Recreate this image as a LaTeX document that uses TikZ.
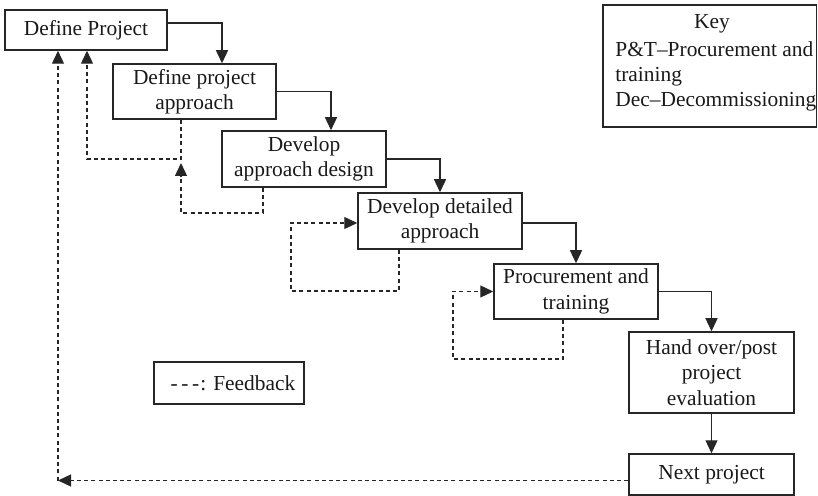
\documentclass[tikz,border=0pt]{standalone}
\usepackage{fontspec}
\setmainfont{Liberation Serif}
\usetikzlibrary{arrows.meta,calc}
\begin{document}
\begin{tikzpicture}[x=0.5pt,y=-0.5pt,
  every node/.style={font=\fontsize{10.7}{12.7}\selectfont, text=black!90},
  stage/.style={draw=black!85, line width=0.75pt, align=center, inner sep=0pt, rectangle},
  keyline/.style={inner sep=0pt},
  flow/.style={draw=black!85, line width=0.65pt, -{Triangle[length=6.5pt,width=6pt]}},
  fb/.style={draw=black!85, line width=0.65pt, dash pattern=on 2pt off 1.6pt},
  fbarrow/.style={fb, -{Triangle[length=6.5pt,width=6pt]}}]
\useasboundingbox (0,0) rectangle (818,496);

% process stages
\node[stage, minimum width=81pt,   minimum height=20pt]   (dp) at (86,30)      {Define Project};
\node[stage, minimum width=81.5pt, minimum height=27.5pt] (b2) at (194.5,91.5) {Define project\\approach};
\node[stage, minimum width=82pt,   minimum height=28pt]   (b3) at (304,159)    {Develop\\approach design};
\node[stage, minimum width=82pt,   minimum height=28pt]   (b4) at (440,221)    {Develop detailed\\approach};
\node[stage, minimum width=82pt,   minimum height=27.5pt] (b5) at (576,291.5)  {Procurement and\\training};
\node[stage, minimum width=82.5pt, minimum height=40.5pt] (b6) at (711.5,372.5) {Hand over/post\\project\\evaluation};
\node[stage, minimum width=82.5pt, minimum height=20.5pt] (nx) at (711.5,474.5) {Next project};

% legend and key
\node[stage, minimum width=75pt, minimum height=21pt] (lg) at (229,383) {\hspace*{4pt}-\kern1.8pt-\kern1.8pt-\kern0.5pt: Feedback};
\node[stage, minimum width=106.75pt, minimum height=61pt] (key) at (709.75,66) {};
\node[keyline, anchor=base] (keyt) at (712,29) {Key};
\node[keyline, anchor=base west] (key1) at (615,57) {P\&T–Procurement and};
\node[keyline, anchor=base west] (key2) at (615,82) {training};
\node[keyline, anchor=base west] (key3) at (615,107) {Dec–Decommissioning};

% forward flow
\draw[flow] ([yshift=3.5pt]dp.east) -| ([xshift=13.75pt]b2.north);
\draw[flow] (b2.east) -| ([xshift=13.5pt]b3.north);
\draw[flow] (b3.east) -| (b4.north);
\draw[flow] ([yshift=-1pt]b4.east) -| (b5.north);
\draw[flow] (b5.east) -| (b6.north);
\draw[flow] (b6.south) -- (nx.north);

% feedback loops
\coordinate (f1) at (87,159);
\draw[fbarrow] ([xshift=-6.75pt]b2.south) |- (f1) -- (f1 |- dp.south);
\coordinate (f2) at (181,213);
\coordinate (f2end) at (181,163);
\draw[fbarrow] ([xshift=-20.5pt]b3.south) |- (f2) -- (f2end);
\coordinate (f3) at (291,291);
\draw[fbarrow] ([xshift=-20.5pt]b4.south) |- (f3) |- ([yshift=-1pt]b4.west);
\coordinate (f4) at (453,359);
\draw[fbarrow] ([xshift=-6.5pt]b5.south) |- (f4) |- (b5.west);
\coordinate (f5) at (58,480.5);
\draw[fbarrow] ([yshift=-3pt]nx.west) -- (f5);
\draw[fbarrow] (f5) -- (f5 |- dp.south);
\end{tikzpicture}
\end{document}
